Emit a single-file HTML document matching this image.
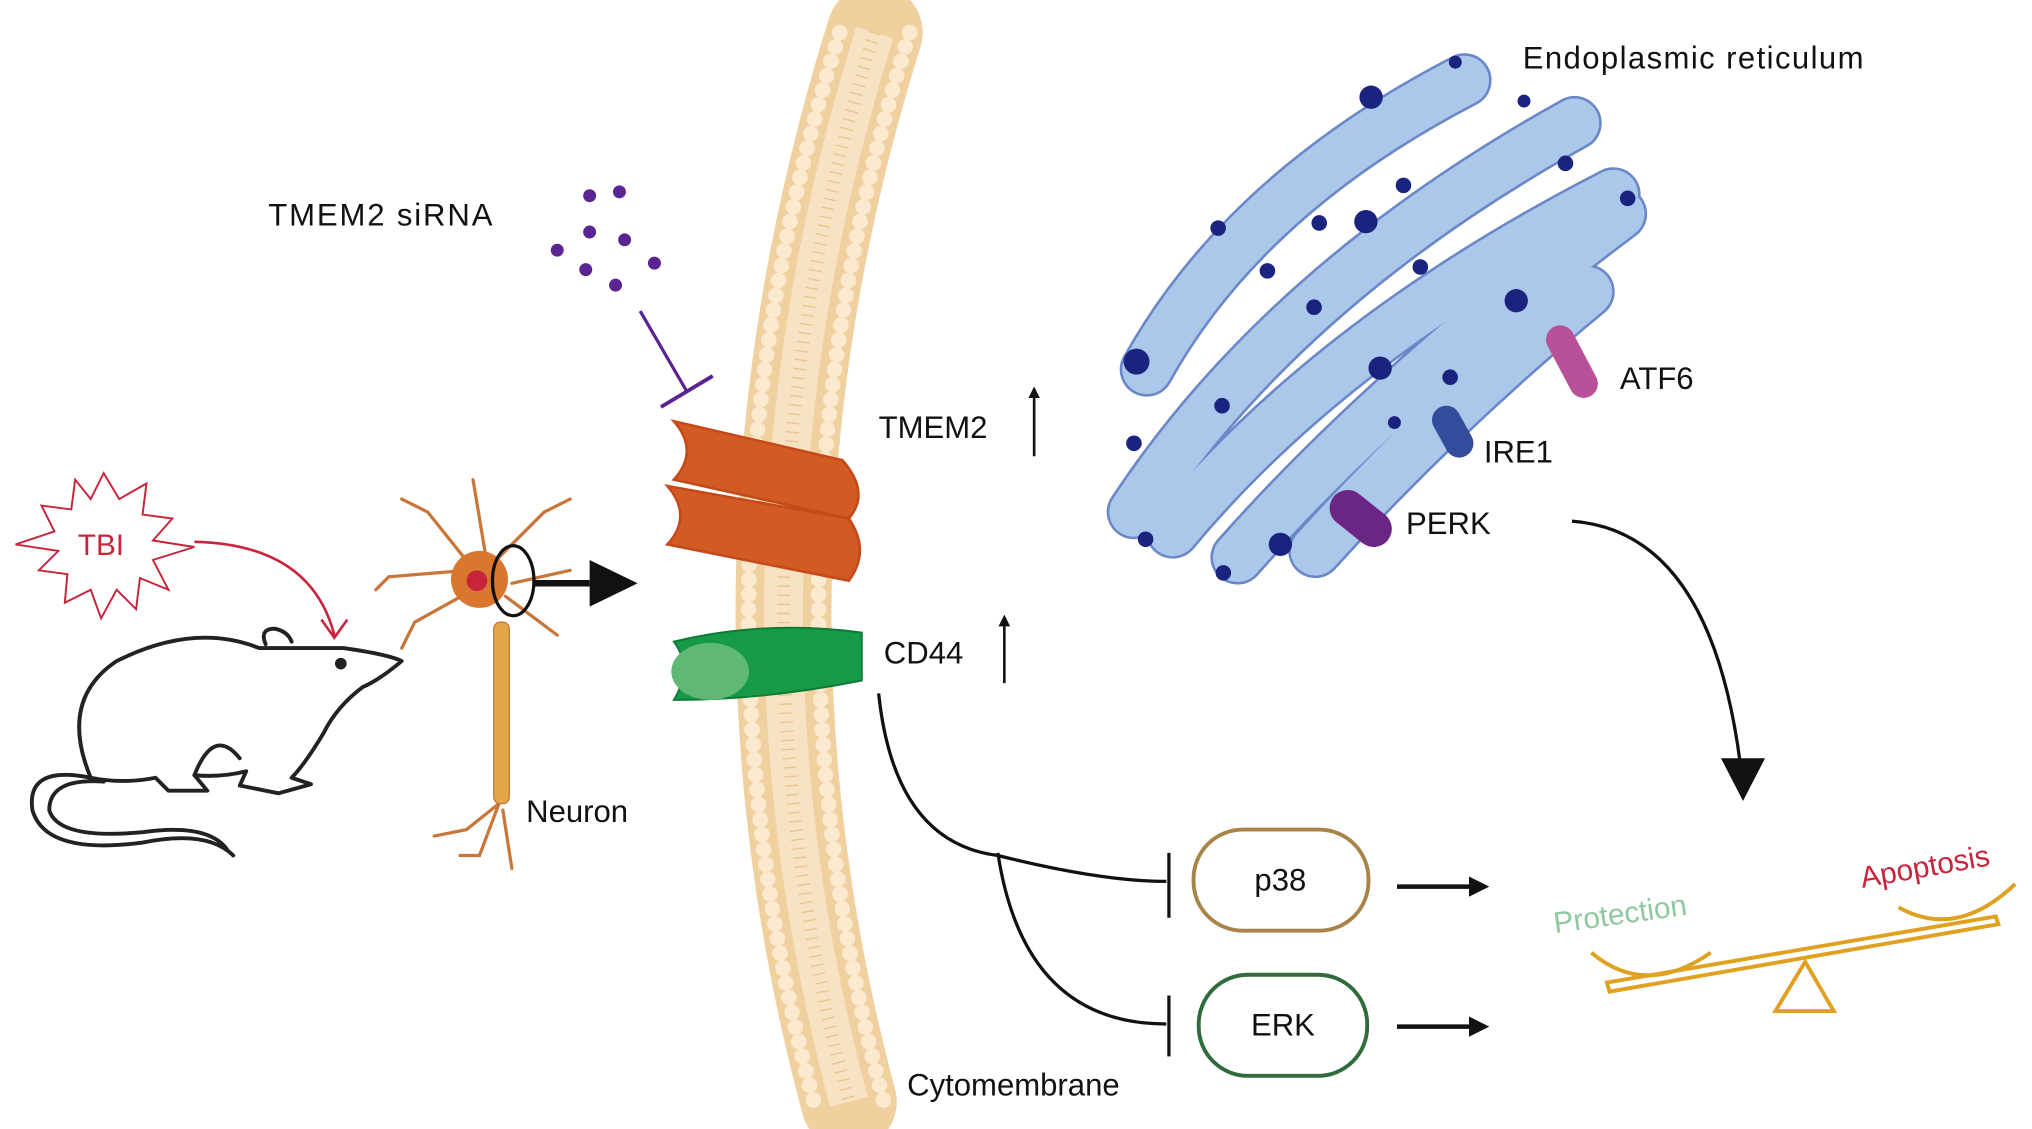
<!DOCTYPE html>
<html><head><meta charset="utf-8"><style>
html,body{margin:0;padding:0;background:#fff;}
svg{display:block;}
text{font-family:"Liberation Sans",sans-serif;}
</style></head><body>
<svg width="2032" height="1129" viewBox="0 0 1568 871" preserveAspectRatio="none" xmlns="http://www.w3.org/2000/svg">
<defs>
<marker id="ah" viewBox="0 0 10 10" refX="8" refY="5" markerWidth="4.5" markerHeight="4.5" orient="auto"><path d="M0,0 L10,5 L0,10 z" fill="#111"/></marker>
</defs>
<!-- membrane -->
<path d="M675 25 Q545 440 655 850" fill="none" stroke="#efd09e" stroke-width="74" stroke-linecap="round"/>
<path d="M675 25 Q545 440 655 850" fill="none" stroke="#f7e3c3" stroke-width="30"/>
<path d="M675 25 Q545 440 655 850" fill="none" stroke="#e8c48c" stroke-width="10" stroke-dasharray="1 6"/>
<path d="M702 25 Q572 440 682 850" fill="none" stroke="#fbead0" stroke-width="12" stroke-dasharray="0.1 11.5" stroke-linecap="round"/>
<path d="M648 25 Q518 440 628 850" fill="none" stroke="#fbead0" stroke-width="12" stroke-dasharray="0.1 11.5" stroke-linecap="round"/>
<text x="700" y="845" font-size="24" fill="#111">Cytomembrane</text>

<!-- TMEM2 channel -->
<path d="M520 325 L650 355 Q672 380 655 400 L520 370 Q540 348 520 325 z" fill="#d45a24" stroke="#c54a1a" stroke-width="2"/>
<path d="M515 375 L655 400 Q672 425 655 448 L515 420 Q535 398 515 375 z" fill="#d45a24" stroke="#c54a1a" stroke-width="2"/>
<text x="678" y="338" font-size="24" fill="#111">TMEM2</text>
<line x1="798" y1="352" x2="798" y2="300" stroke="#111" stroke-width="2" marker-end="url(#ah)"/>

<!-- CD44 -->
<path d="M520 495 Q590 478 665 488 L665 525 Q590 540 520 540 Q535 515 520 495 z" fill="#169a48" stroke="#0f7a38" stroke-width="1.5"/>
<ellipse cx="548" cy="518" rx="30" ry="22" fill="#5fb873"/>
<text x="682" y="512" font-size="24" fill="#111">CD44</text>
<line x1="775" y1="527" x2="775" y2="476" stroke="#111" stroke-width="2" marker-end="url(#ah)"/>

<!-- siRNA -->
<text x="207" y="174" font-size="24" fill="#111" textLength="173">TMEM2 siRNA</text>
<g fill="#5a2590">
<circle cx="455" cy="151" r="5"/><circle cx="478" cy="148" r="5"/><circle cx="455" cy="179" r="5"/><circle cx="482" cy="185" r="5"/><circle cx="430" cy="193" r="5"/><circle cx="452" cy="208" r="5"/><circle cx="475" cy="220" r="5"/><circle cx="505" cy="203" r="5"/>
</g>
<line x1="494" y1="240" x2="530" y2="302" stroke="#5a2590" stroke-width="2.5"/>
<line x1="510" y1="314" x2="550" y2="290" stroke="#5a2590" stroke-width="3"/>

<!-- ER -->
<g fill="none" stroke-linecap="round">
<g stroke="#6a88c8" stroke-width="42">
<path d="M885 285 Q960 150 1130 62"/>
<path d="M875 395 Q990 220 1215 95"/>
<path d="M905 410 Q1030 260 1245 150"/>
<path d="M955 430 Q1070 300 1250 165"/>
<path d="M1015 425 Q1110 320 1225 225"/>
</g>
<g stroke="#abc8eb" stroke-width="38">
<path d="M885 285 Q960 150 1130 62"/>
<path d="M875 395 Q990 220 1215 95"/>
<path d="M905 410 Q1030 260 1245 150"/>
<path d="M955 430 Q1070 300 1250 165"/>
<path d="M1015 425 Q1110 320 1225 225"/>
</g>
</g>
<g fill="#1a237e">
<circle cx="1123" cy="48" r="5"/><circle cx="1058" cy="75" r="9"/><circle cx="1176" cy="78" r="5"/><circle cx="1208" cy="126" r="6"/><circle cx="1083" cy="143" r="6"/><circle cx="1256" cy="153" r="6"/><circle cx="940" cy="176" r="6"/><circle cx="1018" cy="172" r="6"/><circle cx="1054" cy="171" r="9"/><circle cx="978" cy="209" r="6"/><circle cx="1096" cy="206" r="6"/><circle cx="1014" cy="237" r="6"/><circle cx="1170" cy="232" r="9"/><circle cx="877" cy="279" r="10"/><circle cx="1065" cy="284" r="9"/><circle cx="1119" cy="291" r="6"/><circle cx="943" cy="313" r="6"/><circle cx="1076" cy="326" r="5"/><circle cx="875" cy="342" r="6"/><circle cx="884" cy="416" r="6"/><circle cx="988" cy="420" r="9"/><circle cx="944" cy="442" r="6"/>
</g>
<line x1="1204" y1="262" x2="1222" y2="296" stroke="#b9509a" stroke-width="22" stroke-linecap="round"/>
<line x1="1116" y1="324" x2="1126" y2="342" stroke="#334c9b" stroke-width="22" stroke-linecap="round"/>
<line x1="1040" y1="392" x2="1060" y2="408" stroke="#6a2585" stroke-width="28" stroke-linecap="round"/>
<text x="1175" y="53" font-size="24" fill="#111" textLength="263">Endoplasmic reticulum</text>
<text x="1250" y="300" font-size="24" fill="#111">ATF6</text>
<text x="1145" y="357" font-size="24" fill="#111">IRE1</text>
<text x="1085" y="412" font-size="24" fill="#111">PERK</text>

<!-- ER -> balance arrow -->
<path d="M1213 402 Q1320 410 1343 590" fill="none" stroke="#111" stroke-width="2.5"/>
<path d="M1328 585 L1362 585 L1345 618 z" fill="#111"/>

<!-- TBI star -->
<polygon points="80,365 92,385 113,373 110,397 133,400 118,417 150,422 118,432 130,455 108,446 105,470 90,455 78,477 70,455 50,465 52,443 30,440 45,425 12,420 42,410 32,390 55,393 58,370 70,385" fill="#fff" stroke="#c8243c" stroke-width="1.5"/>
<text x="60" y="428" font-size="23" fill="#c8243c">TBI</text>
<path d="M150 418 Q240 420 258 490" fill="none" stroke="#c8243c" stroke-width="2"/>
<path d="M248 478 L258 492 L268 478" fill="none" stroke="#c8243c" stroke-width="2"/>

<!-- rat -->
<g fill="none" stroke="#222" stroke-width="3" stroke-linejoin="round" stroke-linecap="round">
<path d="M70 600 Q45 540 90 510 Q150 480 200 500 Q240 500 265 500 Q300 505 310 510 Q292 525 280 530 Q260 545 250 565 Q235 590 225 600 L240 605 L215 612 L185 606 L190 595 Q170 600 150 598 L160 610 L130 610 L120 600 Q95 605 70 600 z"/>
<path d="M70 600 Q20 590 25 625 Q35 660 110 650 Q160 640 180 660"/>
<path d="M80 603 Q38 600 38 625 Q45 648 110 642 Q160 635 175 655"/>
<path d="M205 497 Q200 485 212 485 Q222 487 225 495"/>
<circle cx="263" cy="512" r="3" fill="#222"/>
<path d="M150 598 Q165 560 185 585"/>
</g>

<!-- neuron -->
<g stroke="#c8763a" stroke-width="2.5" fill="none" stroke-linecap="round">
<path d="M370 445 L330 395 L310 385"/><path d="M360 440 L300 445 L290 455"/><path d="M365 455 L320 480 L310 500"/><path d="M375 430 L365 370"/><path d="M385 430 L420 395 L440 385"/><path d="M395 450 L440 440"/><path d="M390 460 L430 490"/>
<path d="M385 620 L360 640 L335 645"/><path d="M385 620 L370 660 L355 660"/><path d="M388 625 L395 670"/>
</g>
<circle cx="370" cy="447" r="22" fill="#d9772f"/>
<circle cx="368" cy="448" r="8" fill="#c8243c"/>
<rect x="381" y="480" width="12" height="140" rx="5" fill="#e2a54a" stroke="#c8763a"/>
<ellipse cx="396" cy="448" rx="16" ry="27" fill="none" stroke="#111" stroke-width="2.5"/>
<line x1="412" y1="450" x2="455" y2="450" stroke="#111" stroke-width="5"/>
<path d="M455 432 L492 450 L455 468 z" fill="#111"/>
<text x="406" y="634" font-size="24" fill="#111">Neuron</text>

<!-- CD44 branches -->
<path d="M678 535 Q690 650 770 660 Q850 680 900 680" fill="none" stroke="#111" stroke-width="2.5"/>
<path d="M770 658 Q790 790 900 790" fill="none" stroke="#111" stroke-width="2.5"/>
<line x1="902" y1="658" x2="902" y2="708" stroke="#111" stroke-width="2.5"/>
<line x1="902" y1="768" x2="902" y2="815" stroke="#111" stroke-width="2.5"/>

<rect x="921" y="640" width="135" height="78" rx="38" fill="#fff" stroke="#a98448" stroke-width="3"/>
<text x="988" y="687" font-size="24" fill="#111" text-anchor="middle">p38</text>
<rect x="925" y="752" width="130" height="78" rx="38" fill="#fff" stroke="#2f6b3c" stroke-width="3"/>
<text x="990" y="799" font-size="24" fill="#111" text-anchor="middle">ERK</text>
<line x1="1078" y1="684" x2="1146" y2="684" stroke="#111" stroke-width="3.5" marker-end="url(#ah)"/>
<line x1="1078" y1="792" x2="1146" y2="792" stroke="#111" stroke-width="3.5" marker-end="url(#ah)"/>

<!-- balance -->
<g fill="none" stroke="#e0a020" stroke-width="3">
<path d="M1240 758 L1540 707 L1542 713 L1242 765 z"/>
<path d="M1228 735 Q1270 770 1320 735"/>
<path d="M1465 700 Q1510 725 1555 682"/>
<path d="M1393 742 L1370 780 L1415 780 z"/>
</g>
<text x="1200" y="720" font-size="23" fill="#8fc7a0" transform="rotate(-8 1200 720)">Protection</text>
<text x="1437" y="685" font-size="23" fill="#c8243c" transform="rotate(-10 1437 685)">Apoptosis</text>
</svg>
</body></html>
